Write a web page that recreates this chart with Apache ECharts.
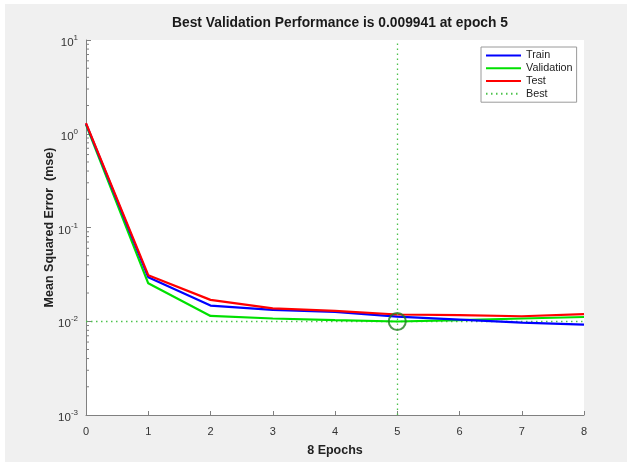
<!DOCTYPE html>
<html>
<head>
<meta charset="utf-8">
<script src="https://cdn.jsdelivr.net/npm/echarts@6/dist/echarts.min.js"></script>
<style>
html,body{margin:0;padding:0;background:#ffffff;}
#c{width:638px;height:462px;}
</style>
</head>
<body>
<div id="c"></div>
<script>
var epochs = [0, 1, 2, 3, 4, 5, 6, 7, 8];
var trainVals = [1.28, 0.0295, 0.0147, 0.0132, 0.0126, 0.0112, 0.0104, 0.00968, 0.00922];
var validationVals = [1.25, 0.0254, 0.0114, 0.0107, 0.0103, 0.009941, 0.0103, 0.0107, 0.0111];
var testVals = [1.30, 0.0310, 0.0169, 0.0137, 0.0129, 0.0118, 0.0116, 0.0113, 0.0119];
var bestEpoch = 5;
var bestValue = 0.009941;
var xTickLabels = ['0', '1', '2', '3', '4', '5', '6', '7', '8'];
var minorTickMultipliers = [2, 3, 4, 5, 6, 7, 8, 9];
var decades = [0.001, 0.01, 0.1, 1];
var legendNames = ['Train', 'Validation', 'Test', 'Best'];
var titleText = 'Best Validation Performance is 0.009941 at epoch 5';
var xName = '8 Epochs';
var yName = 'Mean Squared Error  (mse)';

function pairs(vals){ return epochs.map(function(e,i){ return [e, vals[i]]; }); }
var minorTicks = [];
decades.forEach(function(d){ minorTickMultipliers.forEach(function(m){ minorTicks.push([0, d*m]); }); });

var FONT = '"Liberation Sans", Arial, Helvetica, sans-serif';
var BESTC = '#4cc24c';
var chart = echarts.init(document.getElementById('c'), null, {renderer:'canvas'});
var option = {
  backgroundColor: '#ffffff',
  animation: false,
  graphic: [{
    type: 'rect', z: -10, silent: true,
    shape: {x: 5, y: 4, width: 622, height: 458},
    style: {fill: '#f0f0f0'}
  }],
  title: {
    text: titleText,
    left: 335, top: 11, textAlign: 'center',
    textStyle: {fontFamily: FONT, fontSize: 13.8, fontWeight: 'bold', color: '#1a1a1a'}
  },
  legend: {
    data: legendNames,
    orient: 'vertical',
    left: 481, top: 47,
    itemWidth: 35, itemHeight: 8, itemGap: 0,
    backgroundColor: '#ffffff',
    borderColor: '#9a9a9a', borderWidth: 1,
    padding: [2, 4, 2, 4],
    itemStyle: {opacity: 0},
    textStyle: {fontFamily: FONT, fontSize: 10.8, color: '#222', lineHeight: 12.8},
    selectedMode: false
  },
  grid: {left: 86, right: 54, top: 40, bottom: 46, show: true, backgroundColor: '#ffffff', borderWidth: 0},
  xAxis: {
    type: 'value', min: 0, max: 8, interval: 1,
    name: xName, nameLocation: 'middle', nameGap: 29,
    nameTextStyle: {fontFamily: FONT, fontSize: 12.5, fontWeight: 'bold', color: '#222'},
    axisLine: {lineStyle: {color: '#808080', width: 1}},
    axisTick: {inside: true, length: 4, lineStyle: {color: '#808080'}},
    axisLabel: {fontFamily: FONT, fontSize: 11, color: '#333', margin: 11,
      formatter: function(v){ return xTickLabels[Math.round(v)]; }},
    splitLine: {show: false}
  },
  yAxis: {
    type: 'log', logBase: 10, min: 0.001, max: 10,
    name: yName, nameLocation: 'middle', nameGap: 30, nameMoveOverlap: false,
    nameTextStyle: {fontFamily: FONT, fontSize: 12.5, fontWeight: 'bold', color: '#222'},
    axisLine: {show: true, lineStyle: {color: '#808080', width: 1}},
    axisTick: {inside: true, length: 5, lineStyle: {color: '#808080'}},
    axisLabel: {
      margin: 8, fontFamily: FONT, color: '#333',
      formatter: function(v){
        var e = Math.round(Math.log(v)/Math.LN10);
        return '{a|10}{b|' + e + '}';
      },
      rich: {
        a: {fontFamily: FONT, fontSize: 11.5, color: '#333', padding: [6,0,0,0]},
        b: {fontFamily: FONT, fontSize: 8, color: '#333', padding: [0,0,4,0]}
      }
    },
    splitLine: {show: false},
    minorTick: {show: false}
  },
  series: [
    {
      name: 'Best', type: 'line', data: [[0, bestValue], [8, bestValue]],
      symbol: 'none', z: 1,
      lineStyle: {color: BESTC, width: 1.3, type: [1.5, 3.5]},
      itemStyle: {color: BESTC},
      markLine: {
        silent: true, symbol: 'none', label: {show: false},
        lineStyle: {color: BESTC, width: 1.3, type: [1.5, 3.5]},
        emphasis: {disabled: true},
        data: [{xAxis: bestEpoch}]
      }
    },
    {
      name: 'Train', type: 'line', data: pairs(trainVals), symbol: 'none', z: 3,
      lineStyle: {color: '#0000ff', width: 2.2}, itemStyle: {color: '#0000ff'}
    },
    {
      name: 'Validation', type: 'line', data: pairs(validationVals), symbol: 'none', z: 2,
      lineStyle: {color: '#00e000', width: 2.2}, itemStyle: {color: '#00e000'}
    },
    {
      name: 'Test', type: 'line', data: pairs(testVals), symbol: 'none', z: 4,
      lineStyle: {color: '#ff0000', width: 2.2}, itemStyle: {color: '#ff0000'}
    },
    {
      name: 'BestCircle', type: 'scatter', data: [[bestEpoch, bestValue]],
      symbol: 'circle', symbolSize: 17, z: 5,
      itemStyle: {color: 'rgba(0,0,0,0)', borderColor: '#1d7f1d', borderWidth: 2}
    },
    {
      name: 'minorTicks', type: 'custom', data: minorTicks, z: 6, silent: true,
      renderItem: function(params, api){
        var p = api.coord([api.value(0), api.value(1)]);
        return {type: 'line', shape: {x1: p[0], y1: p[1], x2: p[0] + 3, y2: p[1]},
          style: {stroke: '#808080', lineWidth: 1}};
      }
    }
  ]
};
chart.setOption(option);
</script>
</body>
</html>
